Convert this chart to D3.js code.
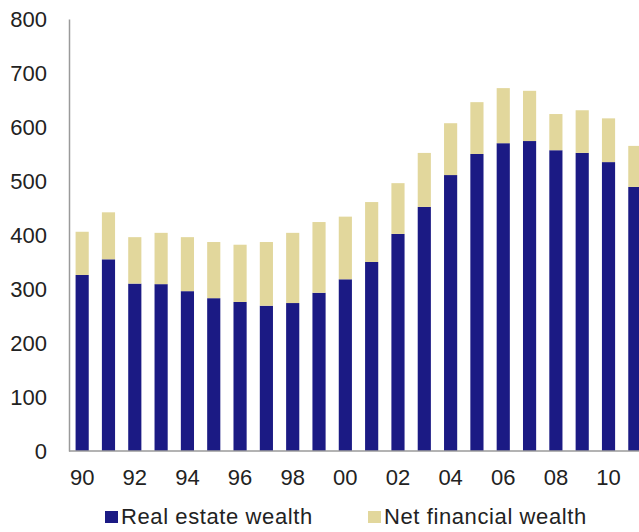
<!DOCTYPE html>
<html>
<head>
<meta charset="utf-8">
<script src="https://cdn.jsdelivr.net/npm/d3@7"></script>
<style>
body { margin: 0; background: #fff; }
svg { display: block; }
text { font-family: "Liberation Sans", Arial, sans-serif; fill: #222; }
</style>
</head>
<body>
<svg id="chart" width="639" height="532"></svg>
<script>
const years = ["90","91","92","93","94","95","96","97","98","99","00","01","02","03","04","05","06","07","08","09","10","11"];
const realEstate = [326, 355, 310, 309, 296, 283, 276, 269, 274, 293, 318, 350, 402, 452, 511, 550, 570, 574, 557, 552, 535, 489];
const netFinancial = [80, 87, 86, 95, 100, 104, 106, 118, 130, 131, 116, 111, 94, 100, 96, 96, 102, 93, 67, 79, 81, 76];
const yTicks = [0, 100, 200, 300, 400, 500, 600, 700, 800];
const xTickLabels = ["90","92","94","96","98","00","02","04","06","08","10"];
const seriesNames = ["Real estate wealth", "Net financial wealth"];
const colors = ["#1b1a84", "#e2d79c"];

const svg = d3.select("#chart");
const x = d3.scaleBand().domain(years).range([69, 648]).paddingInner(0.5).paddingOuter(0.25);
const y = d3.scaleLinear().domain([0, 800]).range([451, 19]);

const data = years.map((yr, i) => ({ year: yr, re: realEstate[i], nf: netFinancial[i] }));
const stack = d3.stack().keys(["re", "nf"])(data);

svg.append("g").selectAll("g").data(stack).join("g")
  .attr("fill", (d, i) => colors[i])
  .selectAll("rect").data(d => d).join("rect")
  .attr("x", d => x(d.data.year))
  .attr("width", x.bandwidth())
  .attr("y", d => y(d[1]))
  .attr("height", d => y(d[0]) - y(d[1]));

// axes
const yAxis = d3.axisLeft(y).tickValues(yTicks).tickSize(0).tickPadding(22);
const gy = svg.append("g").attr("transform", "translate(69,0)").call(yAxis);
gy.select(".domain").attr("stroke", "#9a9a9a").attr("stroke-width", 1.5);
gy.selectAll("text").style("font-size", "22px").attr("dy", "0.36em");

const xAxis = d3.axisBottom(x).tickValues(xTickLabels).tickSize(0).tickPadding(18);
const gx = svg.append("g").attr("transform", "translate(0,451)").call(xAxis);
gx.select(".domain").attr("stroke", "#9a9a9a").attr("stroke-width", 1.5).attr("d", "M69,0H639");
gx.selectAll("text").style("font-size", "22px");

// legend
const legendX = [105, 368];
const lg = svg.append("g");
seriesNames.forEach((name, i) => {
  lg.append("rect").attr("x", legendX[i]).attr("y", 511).attr("width", 13).attr("height", 12).attr("fill", colors[i]);
  lg.append("text").attr("x", legendX[i] + 16).attr("y", 524).style("font-size", "22px").style("letter-spacing", "0.6px").text(name);
});
</script>
</body>
</html>
